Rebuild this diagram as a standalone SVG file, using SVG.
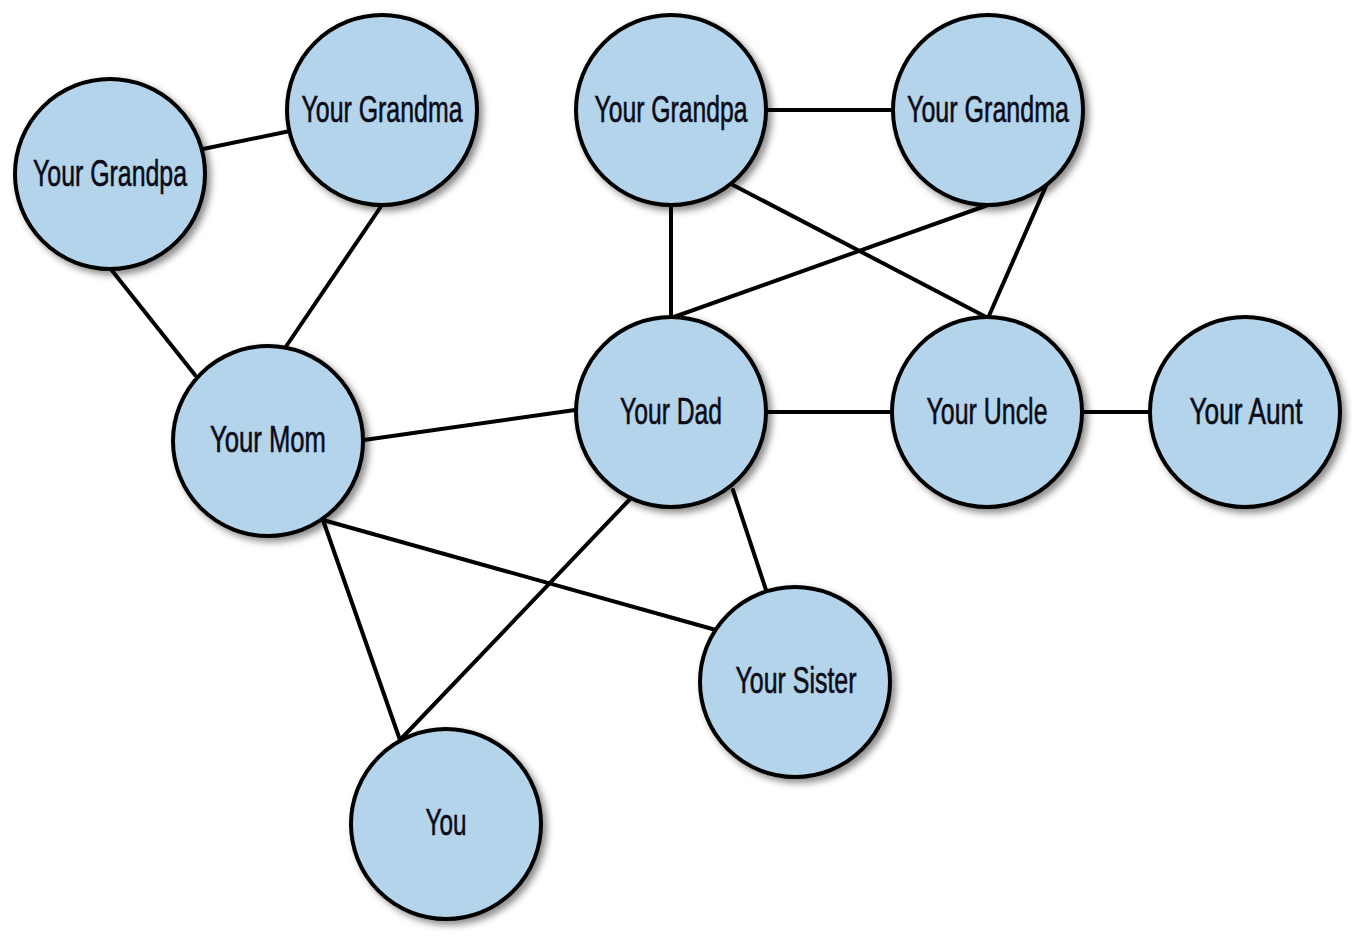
<svg xmlns="http://www.w3.org/2000/svg" width="1368" height="946" viewBox="0 0 1368 946">
<defs>
<filter id="sh" x="-20%" y="-20%" width="150%" height="150%">
<feDropShadow dx="4" dy="4" stdDeviation="3.5" flood-color="#000" flood-opacity="0.45"/>
</filter>
<style>
.n circle{fill:#b3d4ea;stroke:#000;stroke-width:4;filter:url(#sh)}
.n text{font-family:"Liberation Sans","DejaVu Sans Condensed",sans-serif;font-size:37px;fill:#0b0b18;stroke:#0b0b18;stroke-width:0.6;text-anchor:middle}
.e line{stroke:#000;stroke-width:4;stroke-linecap:round}
</style>
</defs>
<rect width="1368" height="946" fill="#fff"/>
<g id="connectors" class="e">
<line x1="203" y1="149" x2="290" y2="131"/>
<line x1="110" y1="268" x2="195" y2="375"/>
<line x1="382" y1="205" x2="285" y2="348"/>
<line x1="364" y1="440" x2="575" y2="410"/>
<line x1="767" y1="110" x2="892" y2="110"/>
<line x1="671" y1="205" x2="671" y2="317"/>
<line x1="733" y1="185" x2="988" y2="318"/>
<line x1="988" y1="205" x2="671" y2="318"/>
<line x1="1046" y1="186" x2="988" y2="318"/>
<line x1="767" y1="412" x2="892" y2="412"/>
<line x1="1082" y1="412" x2="1150" y2="412"/>
<line x1="733" y1="490" x2="766" y2="590"/>
<line x1="632" y1="497" x2="400" y2="740"/>
<line x1="323" y1="520" x2="716" y2="630"/>
<line x1="323" y1="520" x2="400" y2="740"/>
</g>
<g id="grandpa-left" class="n"><circle cx="110" cy="174" r="95"/><text x="110" y="186" textLength="154" lengthAdjust="spacingAndGlyphs">Your Grandpa</text></g>
<g id="grandma-left" class="n"><circle cx="382" cy="110" r="95"/><text x="382" y="122" textLength="161" lengthAdjust="spacingAndGlyphs">Your Grandma</text></g>
<g id="grandpa-right" class="n"><circle cx="671" cy="110" r="95"/><text x="671" y="122" textLength="153" lengthAdjust="spacingAndGlyphs">Your Grandpa</text></g>
<g id="grandma-right" class="n"><circle cx="988" cy="110" r="95"/><text x="988" y="122" textLength="162" lengthAdjust="spacingAndGlyphs">Your Grandma</text></g>
<g id="mom" class="n"><circle cx="268" cy="441" r="95"/><text x="268" y="452" textLength="116" lengthAdjust="spacingAndGlyphs">Your Mom</text></g>
<g id="dad" class="n"><circle cx="671" cy="412" r="95"/><text x="671" y="424" textLength="102" lengthAdjust="spacingAndGlyphs">Your Dad</text></g>
<g id="uncle" class="n"><circle cx="987" cy="412" r="95"/><text x="987" y="424" textLength="121" lengthAdjust="spacingAndGlyphs">Your Uncle</text></g>
<g id="aunt" class="n"><circle cx="1245" cy="412" r="95"/><text x="1246" y="424" textLength="113" lengthAdjust="spacingAndGlyphs">Your Aunt</text></g>
<g id="sister" class="n"><circle cx="795" cy="682" r="95"/><text x="796" y="693" textLength="121" lengthAdjust="spacingAndGlyphs">Your Sister</text></g>
<g id="you" class="n"><circle cx="446" cy="824" r="95"/><text x="446" y="835" textLength="41" lengthAdjust="spacingAndGlyphs">You</text></g>
</svg>
